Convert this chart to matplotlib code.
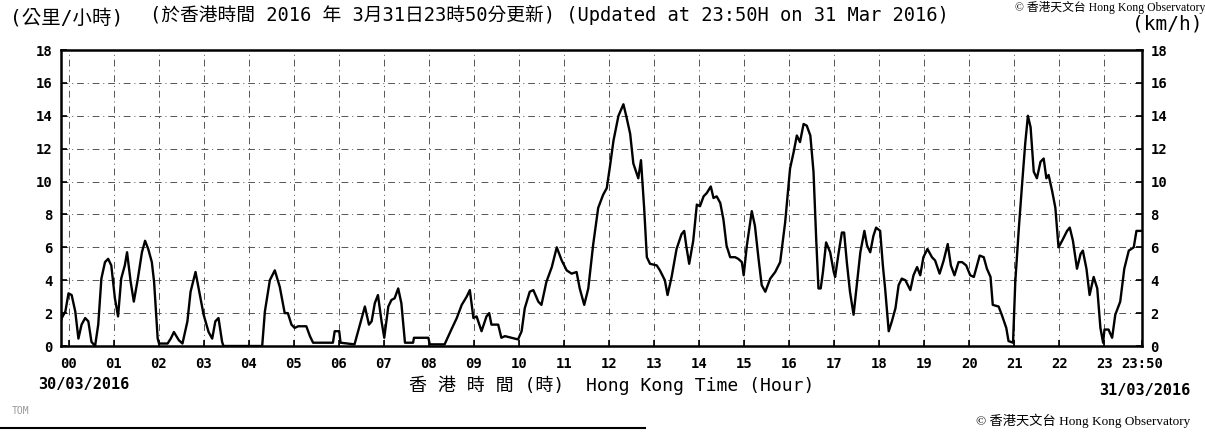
import matplotlib
matplotlib.use('Agg')
import matplotlib.pyplot as plt
from matplotlib.lines import Line2D

# 10-minute mean wind speed (km/h)
hours = [-0.17, -0.15, -0.07, 0.00, 0.07, 0.15, 0.22, 0.29, 0.37, 0.44, 0.51, 0.59,
         0.66, 0.73, 0.81, 0.88, 0.95, 1.03, 1.10, 1.17, 1.25, 1.30, 1.38, 1.45,
         1.54, 1.63, 1.70, 1.77, 1.85, 1.90, 1.98, 2.01, 2.20, 2.27, 2.34, 2.45,
         2.53, 2.64, 2.71, 2.82, 2.93, 3.00, 3.11, 3.19, 3.26, 3.33, 3.41, 3.44,
         4.30, 4.36, 4.47, 4.58, 4.69, 4.80, 4.87, 4.95, 5.02, 5.10, 5.21, 5.28,
         5.36, 5.43, 5.87, 5.91, 6.01, 6.04, 6.35, 6.47, 6.58, 6.67, 6.73, 6.80,
         6.87, 6.95, 7.01, 7.10, 7.17, 7.24, 7.32, 7.39, 7.47, 7.65, 7.67, 7.99,
         8.02, 8.35, 8.50, 8.62, 8.73, 8.84, 8.91, 8.99, 9.06, 9.17, 9.28, 9.34,
         9.39, 9.54, 9.61, 9.69, 9.84, 9.98, 10.06, 10.13, 10.24, 10.32, 10.43, 10.50,
         10.61, 10.73, 10.84, 10.95, 11.06, 11.17, 11.28, 11.35, 11.45, 11.54, 11.65, 11.76,
         11.87, 11.95, 12.02, 12.10, 12.21, 12.32, 12.39, 12.47, 12.54, 12.65, 12.71, 12.78,
         12.84, 12.91, 13.06, 13.13, 13.24, 13.30, 13.39, 13.50, 13.61, 13.67, 13.72, 13.78,
         13.87, 13.95, 14.02, 14.10, 14.17, 14.26, 14.32, 14.39, 14.47, 14.54, 14.61, 14.69,
         14.80, 14.87, 14.95, 14.99, 15.06, 15.17, 15.24, 15.32, 15.39, 15.47, 15.58, 15.69,
         15.80, 15.91, 16.02, 16.10, 16.17, 16.24, 16.32, 16.39, 16.47, 16.54, 16.60, 16.65,
         16.70, 16.75, 16.82, 16.91, 16.99, 17.02, 17.10, 17.17, 17.22, 17.28, 17.35, 17.43,
         17.50, 17.58, 17.67, 17.73, 17.80, 17.87, 17.93, 18.02, 18.08, 18.13, 18.21, 18.28,
         18.36, 18.43, 18.50, 18.58, 18.69, 18.76, 18.84, 18.91, 18.98, 19.07, 19.17, 19.24,
         19.34, 19.43, 19.52, 19.59, 19.67, 19.76, 19.84, 19.93, 20.02, 20.10, 20.17, 20.23,
         20.32, 20.39, 20.47, 20.52, 20.65, 20.72, 20.82, 20.87, 20.97, 21.02, 21.10, 21.17,
         21.24, 21.30, 21.36, 21.43, 21.50, 21.58, 21.65, 21.71, 21.76, 21.84, 21.91, 21.98,
         22.06, 22.17, 22.23, 22.30, 22.39, 22.47, 22.52, 22.60, 22.67, 22.76, 22.84, 22.91,
         22.97, 23.00, 23.09, 23.17, 23.24, 23.35, 23.44, 23.54, 23.65, 23.71, 23.83]
speed = [1.5, 1.7, 2.1, 3.2, 3.1, 2.1, 0.45, 1.3, 1.7, 1.5, 0.25, 0.0,
         1.3, 4.1, 5.1, 5.3, 4.9, 2.9, 1.8, 4.1, 4.9, 5.7, 3.9, 2.7,
         4.1, 5.7, 6.4, 5.9, 5.1, 3.9, 0.45, 0.15, 0.15, 0.45, 0.85, 0.35,
         0.15, 1.5, 3.3, 4.5, 2.9, 1.9, 0.85, 0.45, 1.5, 1.7, 0.25, 0.0,
         0.0, 2.1, 4.0, 4.6, 3.6, 2.0, 2.0, 1.3, 1.1, 1.2, 1.2, 1.2,
         0.6, 0.2, 0.2, 0.9, 0.9, 0.2, 0.1, 1.3, 2.4, 1.3, 1.5, 2.6,
         3.1, 1.5, 0.5, 2.4, 2.8, 2.9, 3.5, 2.6, 0.2, 0.2, 0.5, 0.5,
         0.1, 0.1, 1.0, 1.7, 2.5, 3.0, 3.4, 1.7, 1.8, 0.9, 1.8, 2.0,
         1.3, 1.3, 0.5, 0.6, 0.5, 0.4, 0.9, 2.3, 3.3, 3.4, 2.7, 2.5,
         3.9, 4.8, 6.0, 5.2, 4.6, 4.4, 4.5, 3.5, 2.5, 3.5, 6.2, 8.4,
         9.2, 9.6, 10.9, 12.5, 14.0, 14.7, 13.9, 12.9, 11.1, 10.2, 11.3, 8.4,
         5.4, 5.0, 4.9, 4.6, 4.0, 3.1, 4.2, 5.9, 6.8, 7.0, 6.0, 5.0,
         6.4, 8.6, 8.5, 9.1, 9.3, 9.7, 9.0, 9.1, 8.7, 7.7, 6.1, 5.4,
         5.4, 5.3, 5.1, 4.3, 6.1, 8.2, 7.3, 5.3, 3.7, 3.3, 4.1, 4.5,
         5.1, 7.5, 10.8, 11.8, 12.8, 12.4, 13.5, 13.4, 12.8, 10.6, 6.5, 3.5,
         3.5, 4.5, 6.3, 5.7, 4.5, 4.2, 5.7, 6.9, 6.9, 5.1, 3.3, 1.9,
         3.7, 5.7, 7.0, 6.1, 5.7, 6.7, 7.2, 7.0, 4.9, 3.5, 0.9, 1.5,
         2.3, 3.7, 4.1, 4.0, 3.4, 4.3, 4.8, 4.3, 5.4, 5.9, 5.4, 5.2,
         4.4, 5.2, 6.2, 4.9, 4.3, 5.1, 5.1, 4.9, 4.3, 4.2, 4.9, 5.5,
         5.4, 4.7, 4.2, 2.5, 2.4, 1.9, 1.1, 0.3, 0.2, 3.9, 7.2, 9.8,
         12.3, 14.0, 13.3, 10.6, 10.2, 11.2, 11.4, 10.2, 10.4, 9.4, 8.4, 6.0,
         6.4, 7.0, 7.2, 6.4, 4.7, 5.6, 5.8, 4.7, 3.1, 4.2, 3.5, 1.1,
         0.2, 1.0, 1.0, 0.5, 1.9, 2.7, 4.7, 5.8, 6.0, 7.0, 7.0]

tick_pos = list(range(24)) + [23 + 50 / 60]
tick_lab = ['%02d' % h for h in range(24)] + ['23:50']
y_ticks = list(range(0, 19, 2))

mono = ['DejaVu Sans Mono', 'Noto Sans CJK TC']
plt.rcParams['font.family'] = mono

fig = plt.figure(figsize=(12.05, 4.34), dpi=100)
ax = fig.add_axes([61 / 1205, 88 / 434, 1081 / 1205, 296 / 434])

ax.plot(hours, speed, color='black', linewidth=1.7)
ax.set_xlim(-1 / 6, 23 + 50 / 60)
ax.set_ylim(0, 18)

ax.set_xticks(tick_pos)
ax.set_xticklabels(tick_lab, fontsize=10, fontweight='bold')
ax.set_yticks(y_ticks)
ax.set_yticklabels([str(v) for v in y_ticks], fontsize=10, fontweight='bold')
ax.tick_params(axis='both', direction='in', length=4, width=1.2, color='black')
ax.tick_params(axis='y', right=True, labelright=True, pad=6)
ax.tick_params(axis='x', pad=8)

ax.grid(True, color='#555555', linestyle=(0, (7, 4, 1, 4)), linewidth=0.7)
for s in ax.spines.values():
    s.set_linewidth(1.8)

# header texts
fig.text(10 / 1205, 1 - 18 / 434, '(公里/小時)', fontsize=14, va='center', ha='left')
fig.text(150 / 1205, 1 - 15 / 434,
         '(於香港時間 2016 年 3月31日23時50分更新) (Updated at 23:50H on 31 Mar 2016)',
         fontsize=13.5, va='center', ha='left')
fig.text(1203 / 1205, 1 - 24 / 434, '(km/h)', fontsize=14, va='center', ha='right')
fig.text(1205 / 1205, 1 - 1 / 434, '© 香港天文台 Hong Kong Observatory',
         fontsize=8.5, va='top', ha='right', family=['Liberation Serif', 'Noto Sans CJK TC'])

# footer texts
fig.text(38 / 1205, 1 - 384 / 434, '30/03/2016', fontsize=11, fontweight='bold', va='center', ha='left')
fig.text(1190 / 1205, 1 - 391 / 434, '31/03/2016', fontsize=11, fontweight='bold', va='center', ha='right')
fig.text(612 / 1205, 1 - 385 / 434, '香 港 時 間 (時)  Hong Kong Time (Hour)',
         fontsize=13, va='center', ha='center')
fig.text(1190 / 1205, 1 - 421 / 434, '© 香港天文台 Hong Kong Observatory',
         fontsize=9.5, va='center', ha='right', family=['Liberation Serif', 'Noto Sans CJK TC'])
fig.text(12 / 1205, 1 - 411 / 434, 'TOM', fontsize=7, color='#999999', va='center', ha='left')
fig.add_artist(Line2D([0, 645 / 1205], [1 - 428 / 434, 1 - 428 / 434],
                      color='black', linewidth=1.5, transform=fig.transFigure))

fig.savefig('out.png', dpi=100, facecolor='white')
